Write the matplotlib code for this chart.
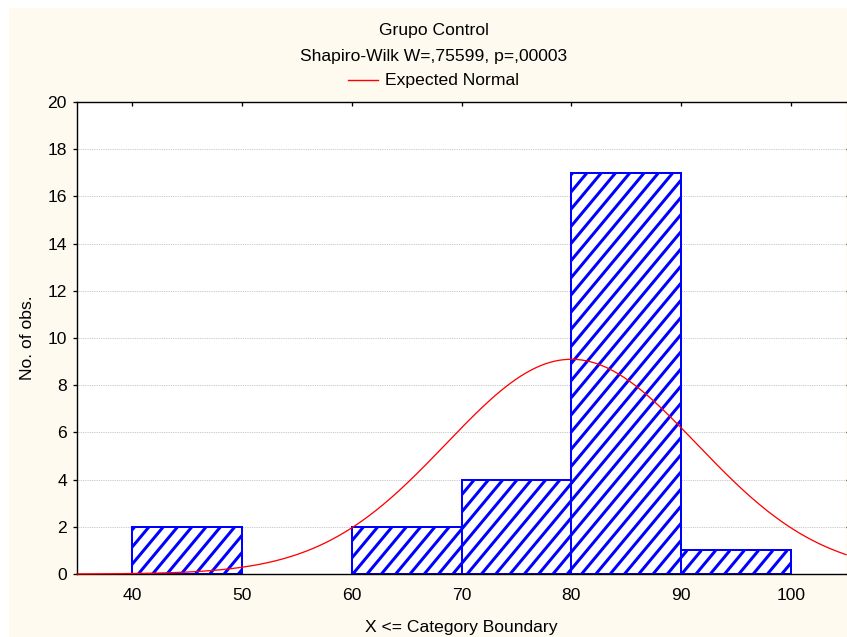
import numpy as np
import matplotlib
matplotlib.use("Agg")
import matplotlib.pyplot as plt
from matplotlib.patches import Rectangle
from matplotlib.lines import Line2D
from matplotlib.collections import LineCollection
from matplotlib.transforms import IdentityTransform

# histogram of the control group
bin_left = [40, 60, 70, 80, 90]
bin_width = 10
counts = [2, 2, 4, 17, 1]
n_obs = 26
fit_mean = 80.0
fit_sd = 11.4

x_ticks = [40, 50, 60, 70, 80, 90, 100]
y_ticks = [0, 2, 4, 6, 8, 10, 12, 14, 16, 18, 20]

title_1 = "Grupo Control"
title_2 = "Shapiro-Wilk W=,75599, p=,00003"
legend_label = "Expected Normal"

DPI = 86
W, H = 847, 637


def pt(px):
    # pixel size -> points at the output dpi
    return px * 72.0 / DPI


plt.rcParams['font.family'] = ['Liberation Sans', 'DejaVu Sans']

FS = pt(17.5)
fig = plt.figure(figsize=(W / DPI, H / DPI), dpi=DPI, facecolor="white")
fig.patches.append(Rectangle((9 / W, 0), 1, 1 - 8 / H, transform=fig.transFigure,
                             facecolor="#fefaf0", edgecolor="none", zorder=-10))

ax = fig.add_axes([77 / W, (H - 574) / H, (846 - 77) / W, (574 - 102) / H])
ax.set_facecolor("white")
ax.set_xlim(35, 105)
ax.set_ylim(0, 20)

bars = ax.bar(bin_left, counts, width=bin_width, align="edge", facecolor="white",
              edgecolor="blue", linewidth=pt(2.0), zorder=2)

# diagonal fill lines, drawn in pixel space and clipped to each bar
spacing = 14.3   # horizontal distance between stripes, px
slope = 1.2      # rise over run of the stripes
for rect in bars:
    (x0, y0), (x1, y1) = ax.transData.transform(
        [(rect.get_x(), 0), (rect.get_x() + rect.get_width(), rect.get_height())])
    n_lo = int(np.floor((x0 - y1 / slope) / spacing)) - 1
    n_hi = int(np.ceil((x1 - y0 / slope) / spacing)) + 1
    segs = [[(n * spacing + y0 / slope, y0), (n * spacing + y1 / slope, y1)]
            for n in range(n_lo, n_hi + 1)]
    lc = LineCollection(segs, colors="blue", linewidths=pt(3.0),
                        transform=IdentityTransform(), zorder=2.1)
    ax.add_collection(lc, autolim=False)
    lc.set_clip_path(rect.get_path(), rect.get_transform())

xs = np.linspace(35, 105, 400)
ys = n_obs * bin_width * np.exp(-0.5 * ((xs - fit_mean) / fit_sd) ** 2) / (fit_sd * np.sqrt(2 * np.pi))
ax.plot(xs, ys, color="red", linewidth=pt(1.3), zorder=3, clip_on=False)

ax.set_xlim(35, 105)
ax.set_ylim(0, 20)
ax.set_xticks(x_ticks)
ax.set_yticks(y_ticks)
ax.yaxis.grid(True, linestyle=(0, (1, 1)), color="#c0c0c0", linewidth=pt(0.9), zorder=0)
ax.set_axisbelow(True)

ax.spines['right'].set_visible(False)
for s in ['left', 'bottom', 'top']:
    ax.spines[s].set_linewidth(pt(1.4))

ax.tick_params(axis='x', which='both', bottom=False, top=True, direction='in',
               length=pt(4), width=pt(1.3), labelsize=FS, pad=pt(14))
ax.tick_params(axis='y', which='both', left=True, right=True, direction='out',
               length=pt(4), width=pt(1.3), labelsize=FS, pad=pt(6))
for t in ax.yaxis.get_ticklines()[1::2]:
    t.set_marker(1)
    t.set_markersize(pt(4))
ax.yaxis.set_tick_params(which='major', labelright=False)

ax.set_xlabel("X <= Category Boundary", fontsize=FS, labelpad=pt(17))
ax.set_ylabel("No. of obs.", fontsize=FS, labelpad=pt(12))

cx = 434 / W
fig.text(cx, 1 - 31 / H, title_1, ha="center", va="center", fontsize=FS)
fig.text(cx, 1 - 56 / H, title_2, ha="center", va="center", fontsize=FS)
fig.lines.append(Line2D([348 / W, 378 / W], [1 - 80 / H, 1 - 80 / H],
                        transform=fig.transFigure, color="red", linewidth=pt(1.4)))
fig.text(385 / W, 1 - 80 / H, legend_label, ha="left", va="center", fontsize=FS)

fig.savefig("out.png", dpi=DPI, facecolor=fig.get_facecolor())
